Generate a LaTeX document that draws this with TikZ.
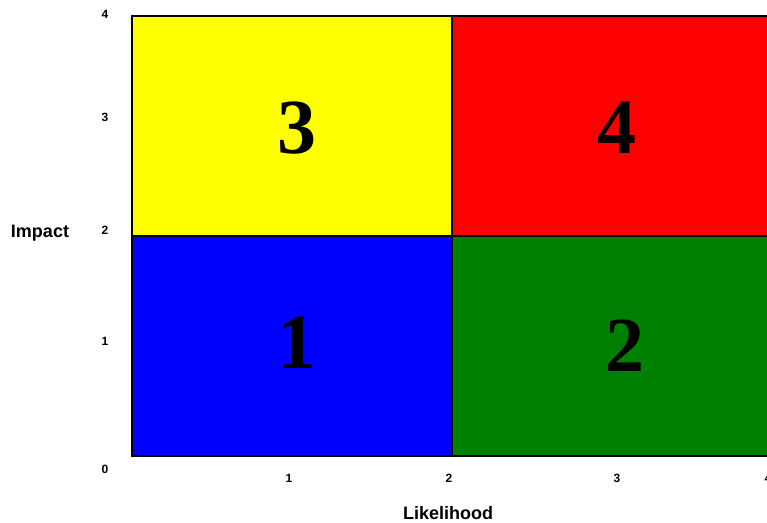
\documentclass[tikz,border=0pt]{standalone}
\usepackage{fontspec}
\setmainfont{Liberation Serif}
\setsansfont{Liberation Sans}
\definecolor{qblue}{RGB}{0,0,255}
\definecolor{qgreen}{RGB}{0,128,0}
\definecolor{qyellow}{RGB}{255,255,0}
\definecolor{qred}{RGB}{255,0,0}
\begin{document}
\begin{tikzpicture}[x=1pt,y=-1pt,
    quad/.style={rectangle, draw, line width=2pt, inner sep=0pt, outer sep=0pt, minimum height=220pt},
    big/.style={font=\bfseries\fontsize{78}{80}\selectfont},
    tick/.style={font=\sffamily\bfseries\fontsize{12}{14}\selectfont, inner sep=0pt},
    axis/.style={font=\sffamily\bfseries\fontsize{18}{20}\selectfont, inner sep=0pt}]
    \useasboundingbox (0,0) rectangle (767,522);

    \node [quad, fill=qblue, minimum width=320pt](q1) at (292,346){};
    \node [quad, fill=qgreen, minimum width=338pt](q2) at (621,346){};
    \node [quad, fill=qyellow, minimum width=320pt](q3) at (292,126){};
    \node [quad, fill=qred, minimum width=338pt](q4) at (621,126){};

    \node [big](n1) at (297,343){1};
    \node [big](n2) at (625,346){2};
    \node [big](n3) at (297,128){3};
    \node [big](n4) at (617,128){4};

    \node [tick](y0) at (105,469){0};
    \node [tick](y1) at (105,341){1};
    \node [tick](y2) at (105,230){2};
    \node [tick](y3) at (105,117){3};
    \node [tick](y4) at (105,14){4};

    \node [tick](x1) at (289,478){1};
    \node [tick](x2) at (449,478){2};
    \node [tick](x3) at (617,478){3};
    \node [tick](x4) at (768,478){4};

    \node [axis](impact) at (40,233){Impact};
    \node [axis](likelihood) at (448,513){Likelihood};
\end{tikzpicture}
\end{document}
